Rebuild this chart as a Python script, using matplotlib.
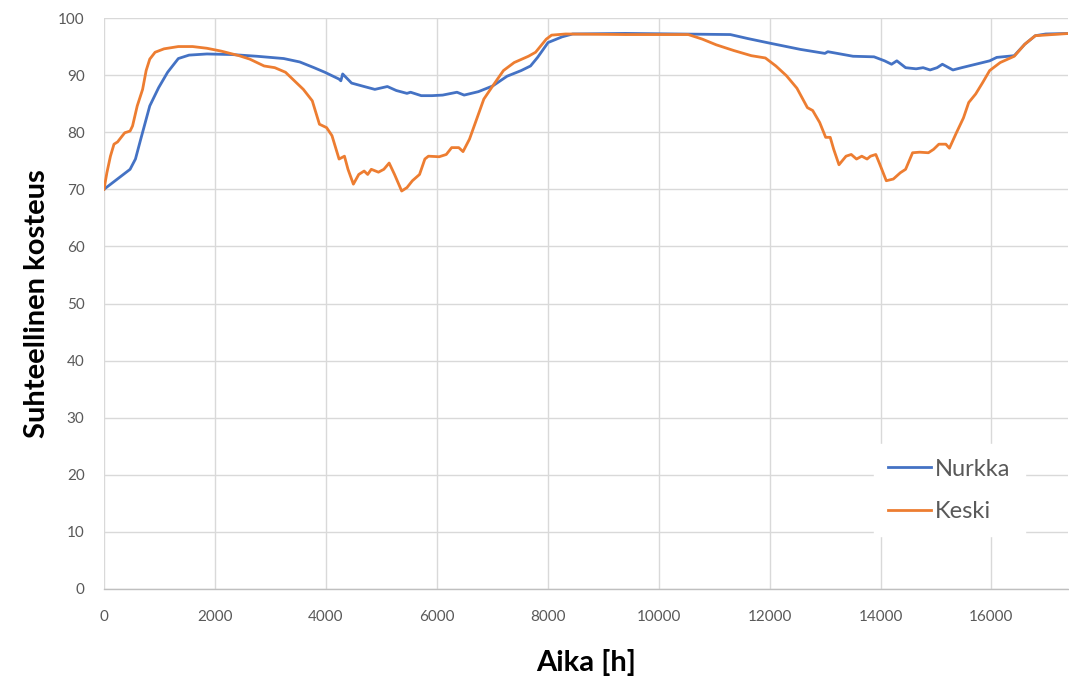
import matplotlib
matplotlib.use("Agg")
import matplotlib.pyplot as plt

plt.rcParams['font.family'] = ['Lato', 'DejaVu Sans']

# Nurkka (blue)
nurkka_h = [0, 470, 567, 663, 825, 985, 1147, 1340, 1533, 1855, 2306, 2757, 3240, 3530,
            3787, 3981, 4238, 4270, 4303, 4464, 4690, 4883, 5109, 5270, 5462, 5527, 5720,
            5913, 6106, 6364, 6493, 6750, 7008, 7266, 7523, 7690, 7817, 8006, 8259, 8449,
            9396, 11292, 11608, 12000, 12556, 12998, 13049, 13504, 13883, 14073, 14199,
            14294, 14452, 14641, 14768, 14894, 15020, 15115, 15305, 15463, 15716, 15968,
            16095, 16411, 16600, 16790, 16979, 17409]
nurkka_rh = [70.0, 73.5, 75.3, 78.8, 84.6, 87.8, 90.5, 92.9, 93.5, 93.7, 93.6, 93.3, 92.9, 92.3,
             91.3, 90.5, 89.3, 89.0, 90.2, 88.6, 88.0, 87.5, 88.0, 87.3, 86.8, 87.0, 86.4,
             86.4, 86.5, 87.0, 86.5, 87.1, 88.1, 89.8, 90.8, 91.6, 93.1, 95.7, 96.7, 97.2,
             97.3, 97.1, 96.4, 95.6, 94.5, 93.8, 94.1, 93.3, 93.2, 92.5, 91.9,
             92.5, 91.3, 91.1, 91.3, 90.9, 91.3, 91.9, 90.9, 91.3, 91.9, 92.5,
             93.1, 93.4, 95.4, 96.9, 97.2, 97.3]

# Keski (orange)
keski_h = [0, 52, 116, 180, 245, 309, 374, 470, 515, 599, 696, 760, 825, 921, 1082, 1340,
           1598, 1855, 2113, 2435, 2628, 2886, 3079, 3272, 3465, 3594, 3755, 3884, 4013,
           4110, 4238, 4335, 4399, 4496, 4593, 4690, 4754, 4819, 4948, 5045, 5141, 5238,
           5367, 5462, 5560, 5689, 5785, 5849, 6043, 6171, 6268, 6396, 6473, 6590, 6719,
           6848, 7008, 7202, 7395, 7652, 7781, 7974, 8070, 8322, 9396, 10534, 10787, 11039,
           11355, 11671, 11924, 12113, 12303, 12493, 12682, 12777, 12903, 13011, 13093,
           13156, 13251, 13378, 13472, 13567, 13662, 13757, 13820, 13915, 13978, 14104,
           14231, 14357, 14452, 14578, 14705, 14863, 14957, 15052, 15178, 15242, 15368,
           15495, 15590, 15716, 15842, 15968, 16158, 16411, 16600, 16790, 17409]
keski_rh = [70.0, 72.9, 75.8, 77.9, 78.3, 79.1, 79.9, 80.2, 81.1, 84.6, 87.5, 90.8, 92.8, 94.0, 94.6, 95.0,
            95.0, 94.7, 94.2, 93.4, 92.8, 91.6, 91.3, 90.5, 88.7, 87.5, 85.5, 81.4, 80.8,
            79.4, 75.3, 75.8, 73.5, 70.9, 72.6, 73.2, 72.6, 73.5, 73.0, 73.5, 74.6, 72.6,
            69.7, 70.3, 71.5, 72.6, 75.3, 75.8, 75.7, 76.1, 77.3, 77.3, 76.6, 78.8, 82.3,
            85.8, 88.1, 90.8, 92.2, 93.3, 94.0, 96.3, 97.0, 97.2, 97.1, 97.1, 96.3, 95.3,
            94.3, 93.4, 93.0, 91.6, 89.9, 87.7, 84.3, 83.8, 81.7, 79.1, 79.1,
            77.0, 74.3, 75.8, 76.1, 75.3, 75.8, 75.3, 75.8, 76.1, 74.6, 71.5,
            71.8, 72.9, 73.5, 76.4, 76.5, 76.4, 77.0, 77.9, 77.9, 77.2, 79.9,
            82.5, 85.2, 86.7, 88.7, 90.8, 92.2, 93.3, 95.4, 96.9, 97.3]

x_ticks = [0, 2000, 4000, 6000, 8000, 10000, 12000, 14000, 16000]
y_ticks = [0, 10, 20, 30, 40, 50, 60, 70, 80, 90, 100]

fig = plt.figure(figsize=(10.69, 6.81), dpi=100)
ax = fig.add_axes([104/1069, 1-589/681, 964/1069, 571/681])

ax.plot(nurkka_h, nurkka_rh, color='#4472C4', lw=2.0, label='Nurkka', zorder=3)
ax.plot(keski_h, keski_rh, color='#ED7D31', lw=2.0, label='Keski', zorder=3)

ax.set_xlim(0, 17380)
ax.set_ylim(0, 100)
ax.set_xticks(x_ticks)
ax.set_yticks(y_ticks)
ax.grid(True, color='#D9D9D9', lw=1.0, zorder=0)
ax.set_axisbelow(True)
for s in ['top', 'right', 'left']:
    ax.spines[s].set_visible(False)
ax.spines['bottom'].set_color('#BFBFBF')
ax.spines['bottom'].set_linewidth(1.0)
ax.tick_params(axis='both', length=0, colors='#595959', labelsize=11)
ax.tick_params(axis='x', pad=15)
ax.tick_params(axis='y', pad=14)

ax.set_xlabel('Aika [h]', fontsize=21, fontweight='bold', labelpad=18, color='black')
ax.set_ylabel('Suhteellinen kosteus', fontsize=21, fontweight='bold', labelpad=6, color='black')

leg = ax.legend(loc='center', bbox_to_anchor=(0.877, 0.173),
                frameon=True, fontsize=17, handlelength=1.8, handletextpad=0.2,
                labelspacing=0.9, borderpad=0.6, fancybox=False)
leg.get_frame().set_edgecolor('white')
leg.get_frame().set_facecolor('white')
leg.get_frame().set_alpha(1.0)
for t in leg.get_texts():
    t.set_color('#595959')

fig.savefig('out.png', dpi=100)
